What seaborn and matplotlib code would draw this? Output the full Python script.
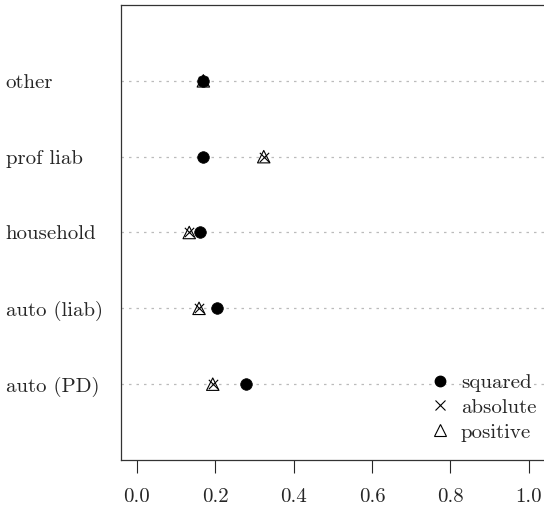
import matplotlib
matplotlib.use("Agg")
import matplotlib.pyplot as plt
import seaborn as sns
import pandas as pd
from matplotlib.lines import Line2D

# data (bottom row first)
categories = ["auto (PD)", "auto (liab)", "household", "prof liab", "other"]
squared = [0.278, 0.205, 0.162, 0.168, 0.168]
absolute = [0.194, 0.159, 0.134, 0.324, 0.170]
positive = [0.194, 0.159, 0.134, 0.324, 0.170]
xticks = [0.0, 0.2, 0.4, 0.6, 0.8, 1.0]

sns.set_style("white")
plt.rcParams["font.family"] = ["cmr10", "DejaVu Serif"]
plt.rcParams["axes.formatter.use_mathtext"] = True
plt.rcParams["mathtext.fontset"] = "cm"

pos = list(range(1, len(categories) + 1))
df = pd.DataFrame({"cat": categories, "pos": pos,
                   "squared": squared, "absolute": absolute, "positive": positive})

fig = plt.figure(figsize=(5.44, 5.11), dpi=100)
ax = fig.add_axes([121 / 544, 51 / 511, 423.5 / 544, 455 / 511])

# dotted guide lines
for p in pos:
    ax.axhline(p, color="#bbbbbb", lw=0.9, ls=(0, (2, 4)), zorder=0)

sns.scatterplot(data=df, x="squared", y="pos", ax=ax, marker="o", s=70,
                color="black", edgecolor="black", linewidth=0.5, zorder=3)
sns.scatterplot(data=df, x="absolute", y="pos", ax=ax, marker="x", s=45,
                color="black", linewidth=0.8, zorder=3)
sns.scatterplot(data=df, x="positive", y="pos", ax=ax, marker="^", s=80,
                facecolor="none", edgecolor="black", linewidth=0.8, zorder=3)

ax.set_xlim(-0.04, 1.04)
ax.set_ylim(0, 6)
ax.set_xlabel("")
ax.set_ylabel("")

ax.set_xticks(xticks)
ax.set_xticklabels([f"{v:.1f}" for v in xticks], fontsize=15)
ax.tick_params(axis="x", direction="out", length=9.4, width=0.8, pad=11, bottom=True)
ax.set_yticks(pos)
ax.set_yticklabels(categories, fontsize=15, ha="left")
ax.tick_params(axis="y", length=0, pad=83)

for s in ax.spines.values():
    s.set_color("#333333")
    s.set_linewidth(0.9)

handles = [
    Line2D([], [], ls="", marker="o", color="black", markersize=7.5),
    Line2D([], [], ls="", marker="x", color="black", markersize=7, mew=0.8),
    Line2D([], [], ls="", marker="^", mfc="none", mec="black", markersize=8, mew=0.8),
]
ax.legend(handles, ["squared", "absolute", "positive"], loc="lower right",
          frameon=False, fontsize=15, handletextpad=0.2, labelspacing=0.3,
          borderaxespad=0.4, handlelength=1.6, bbox_to_anchor=(1.02, 0.004))

fig.savefig("out.png", dpi=100)
